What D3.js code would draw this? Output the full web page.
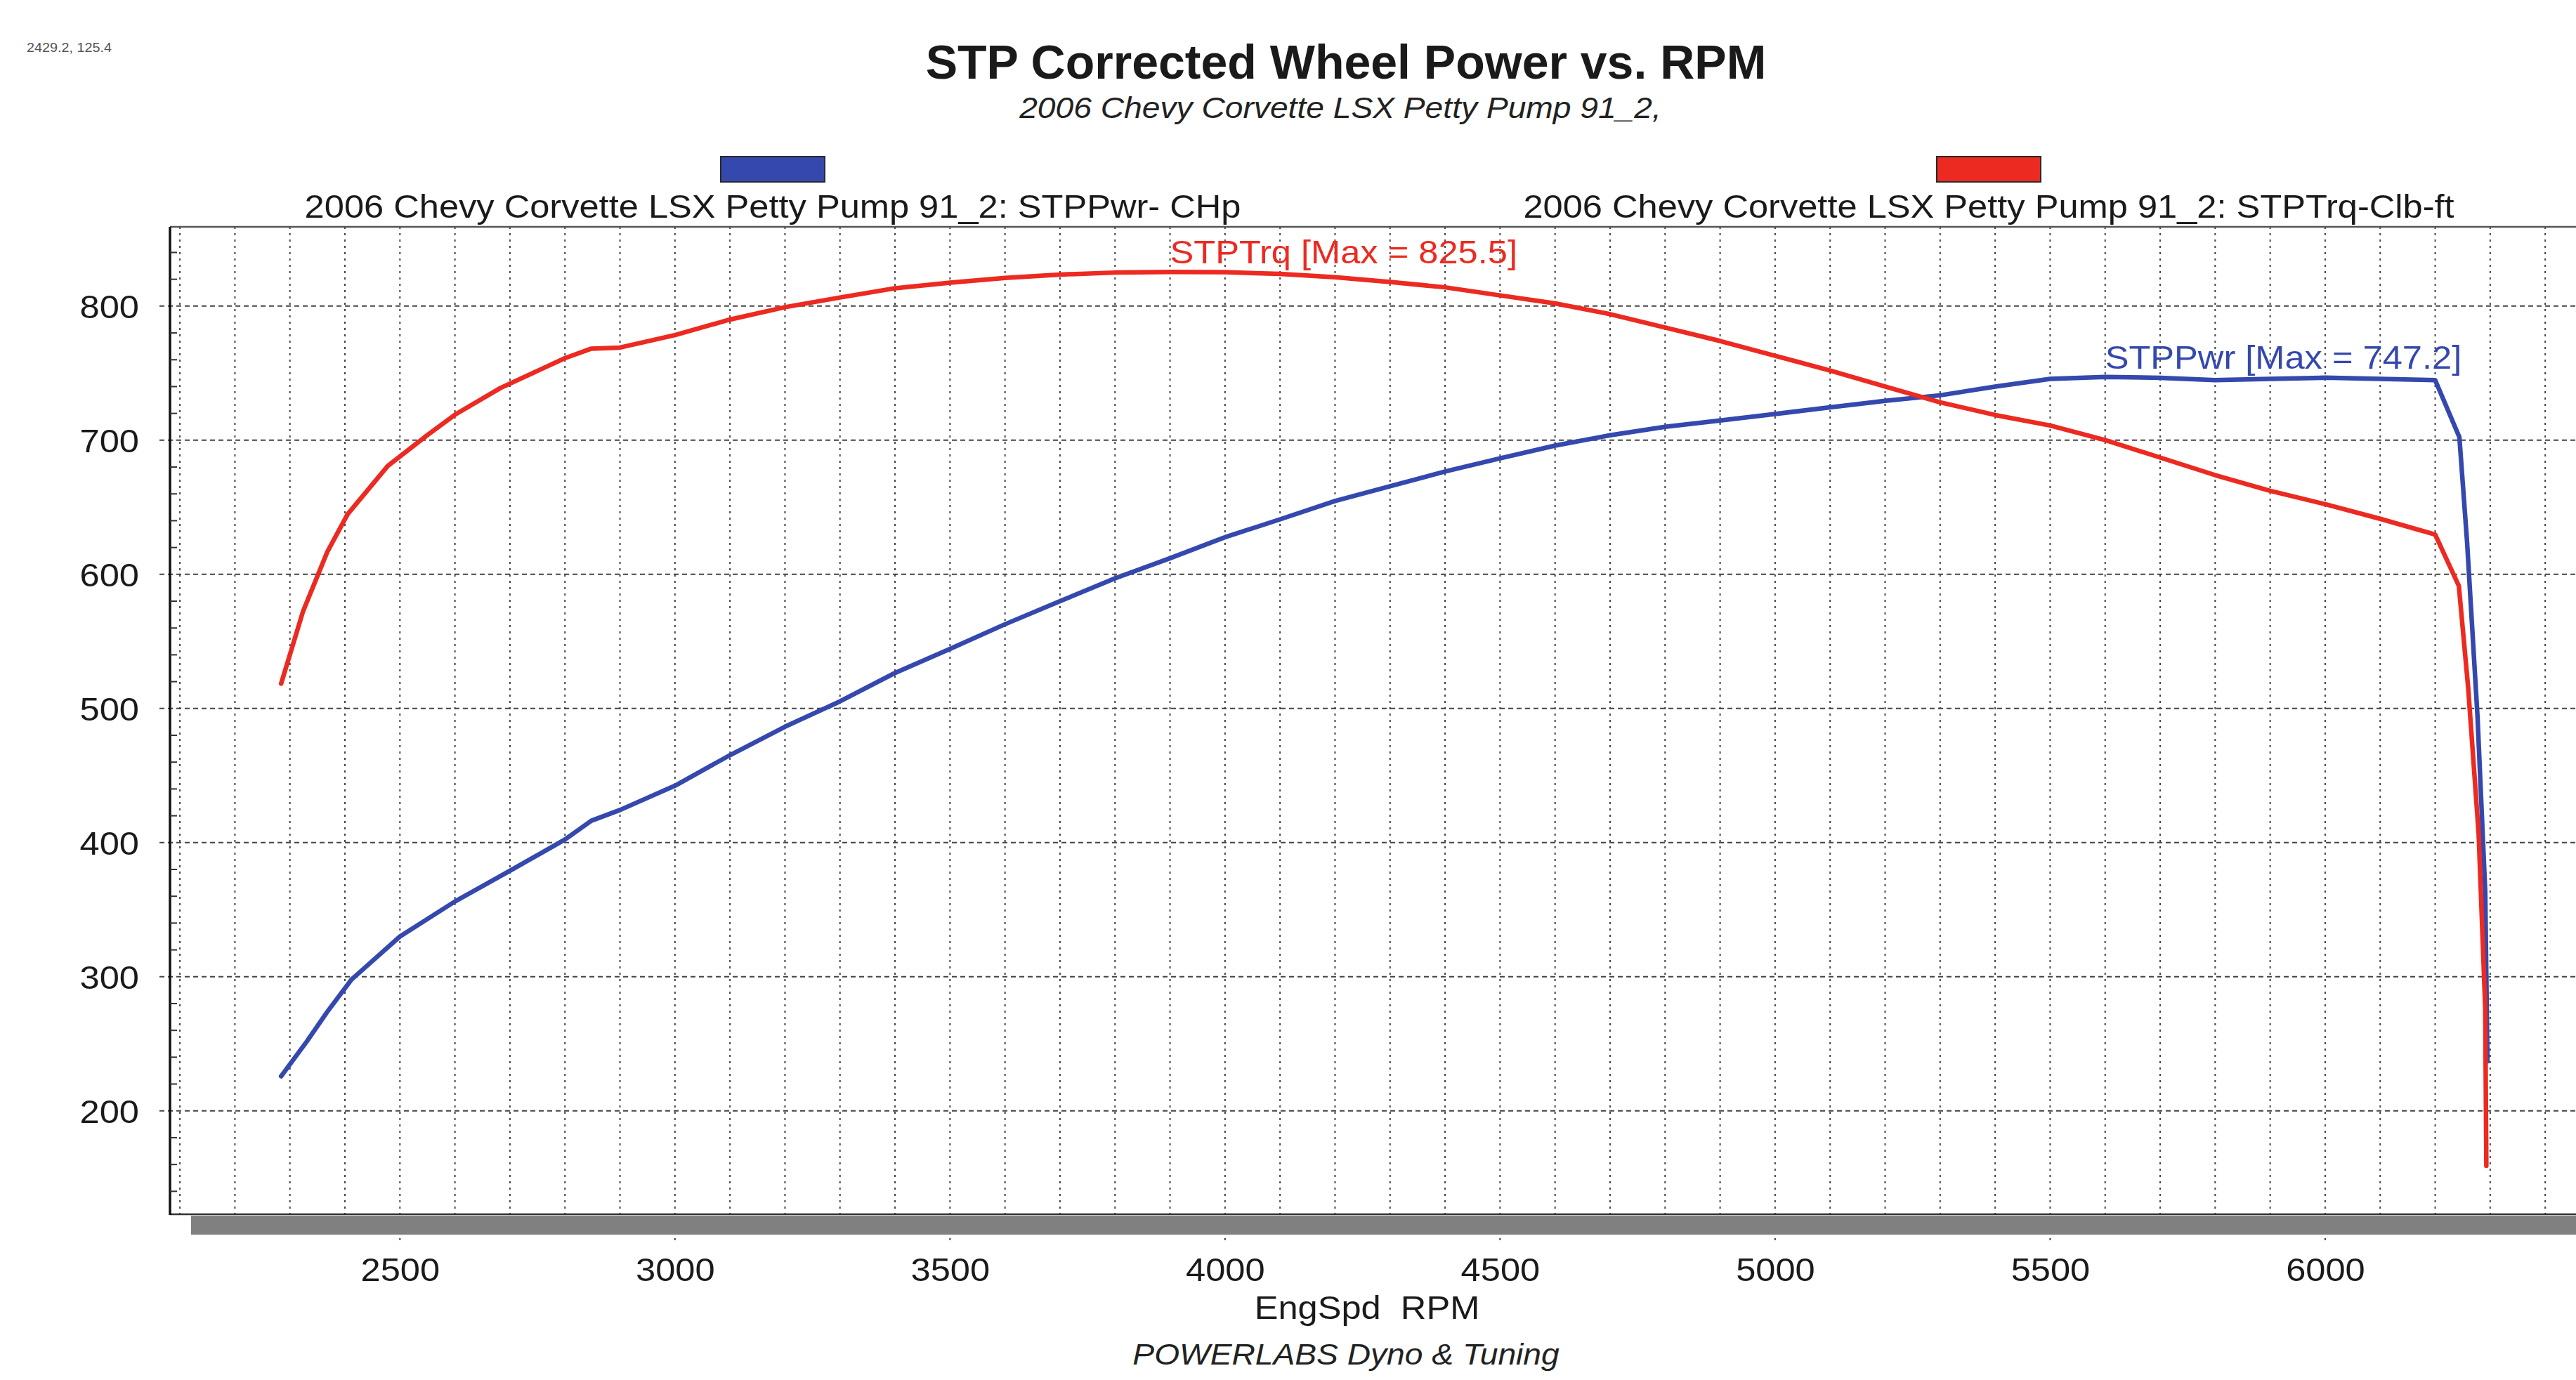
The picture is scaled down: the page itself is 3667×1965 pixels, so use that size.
<!DOCTYPE html>
<html>
<head>
<meta charset="utf-8">
<script src="https://cdn.jsdelivr.net/npm/d3@7"></script>
<style>
html, body { margin: 0; padding: 0; background: #fff; }
svg { display: block; }
text { font-family: "Liberation Sans", Arial, sans-serif; fill: #1a1a1a; }
</style>
</head>
<body>
<div id="chart"></div>
<script>
// engine speed samples (rpm) and STP corrected wheel power (CHp)
var pwrRpm = [2284, 2331, 2368, 2412, 2500, 2600, 2700, 2800, 2848, 2900, 3000, 3100, 3200, 3300, 3400,
    3500, 3600, 3700, 3800, 3900, 4000, 4100, 4200, 4300, 4400, 4500, 4600, 4700, 4800, 4900, 5000,
    5100, 5200, 5300, 5400, 5500, 5600, 5700, 5800, 5900, 6000, 6100, 6200, 6244, 6258, 6277, 6291, 6295];
var pwrHp = [225.8, 251.9, 273.9, 297.9, 330, 356.1, 379, 402.3, 416.3, 424.3, 442.4, 465.2, 486.4, 505.3, 526.5,
    544.4, 562.8, 580, 597, 612, 627.7, 641, 654.7, 665.7, 676.7, 686.5, 696, 703.7, 710, 714.7, 719.6,
    724.5, 729.4, 733.5, 740, 745.7, 747.2, 746.5, 744.8, 745.7, 746.6, 745.7, 744.8, 702.3, 624, 493.6, 363.4, 237];

// engine speed samples (rpm) and STP corrected torque (lb-ft)
var trqRpm = [2284, 2324, 2368, 2405, 2478, 2551, 2600, 2683, 2800, 2848, 2900, 3000, 3100, 3200, 3300, 3400,
    3500, 3600, 3700, 3800, 3900, 4000, 4100, 4200, 4300, 4400, 4500, 4600, 4700, 4800, 4900, 5000,
    5100, 5200, 5300, 5400, 5500, 5600, 5700, 5800, 5900, 6000, 6100, 6200, 6243, 6260, 6279, 6291, 6293];
var trqLbft = [518.5, 572.6, 616.8, 644.9, 680.9, 704.2, 719, 739, 761.2, 768.3, 769.1, 778.4, 790, 799.2, 806.4, 813.3,
    817.5, 821, 823.5, 825, 825.5, 825.3, 824, 821.5, 818, 814, 808, 802, 794, 784, 774, 763,
    752, 740, 728.3, 718.8, 711, 700.1, 687.1, 674, 662.3, 652.3, 641.4, 629.7, 591.4, 515.4, 406.7, 276.4, 159];

var xTickValues = [2500, 3000, 3500, 4000, 4500, 5000, 5500, 6000];
var yTickValues = [200, 300, 400, 500, 600, 700, 800];
var xGridValues = d3.range(2100, 6500, 100);
var yMinorValues = d3.range(140, 860, 20).filter(function(v){ return v % 100 !== 0; });

var titleText = 'STP Corrected Wheel Power vs. RPM';
var subtitleText = '2006 Chevy Corvette LSX Petty Pump 91_2,';
var legendNames = ['2006 Chevy Corvette LSX Petty Pump 91_2: STPPwr- CHp',
                   '2006 Chevy Corvette LSX Petty Pump 91_2: STPTrq-Clb-ft'];
var xTitle = 'EngSpd\u00a0\u00a0RPM';
var footerText = 'POWERLABS Dyno & Tuning';
var cursorText = '2429.2, 125.4';

var dims = {
    width: 3667,
    height: 1965,
    left: 242,
    top: 323,
    bottom: 1729,
    stretch: 1.1,
    blue: '#3548ad',
    red: '#ec2a21'
};

var x = d3.scaleLinear().domain([2082, 6456]).range([dims.left, dims.width]);
var y = d3.scaleLinear().domain([122.9, 859.1]).range([dims.bottom, dims.top]);

var svg = d3.select('#chart')
    .append('svg')
    .attr('width', dims.width)
    .attr('height', dims.height);

function label(x0, y0, str, size, opts){
    opts = opts || {};
    var sx = opts.stretch === undefined ? dims.stretch : opts.stretch;
    return svg.append('text')
        .attr('transform', 'translate(' + x0 + ',' + y0 + ') scale(' + sx + ',1)')
        .attr('text-anchor', opts.anchor || 'start')
        .attr('font-size', size)
        .attr('font-weight', opts.weight || 'normal')
        .attr('font-style', opts.italic ? 'italic' : 'normal')
        .style('fill', opts.color || '#1a1a1a')
        .text(str);
}

// headings
label(38, 74, cursorText, 18, {color: '#555'});
label(1916, 112, titleText, 68, {anchor: 'middle', weight: 'bold', stretch: 1});
label(1908, 168, subtitleText, 42, {anchor: 'middle', italic: true, color: '#222'});

// legend
var legendCenters = [1100, 2831];
var legendColors = [dims.blue, dims.red];
legendNames.forEach(function(name, i){
    svg.append('rect')
        .attr('x', legendCenters[i] - 74)
        .attr('y', 223)
        .attr('width', 148)
        .attr('height', 36)
        .attr('fill', legendColors[i])
        .attr('stroke', '#2a2a2a')
        .attr('stroke-width', 2);
    label(legendCenters[i], 310, name, 46, {anchor: 'middle'});
});

// grid
var grid = svg.append('g');
grid.selectAll('line.v')
    .data(xGridValues)
    .enter()
    .append('line')
    .attr('x1', function(d){ return x(d); })
    .attr('x2', function(d){ return x(d); })
    .attr('y1', dims.top)
    .attr('y2', function(d){ return d % 500 === 0 ? 1772 : dims.bottom; })
    .attr('stroke', '#444')
    .attr('stroke-width', 2)
    .attr('stroke-dasharray', '3,6');

grid.selectAll('line.h')
    .data(yTickValues)
    .enter()
    .append('line')
    .attr('x1', 227)
    .attr('x2', dims.width)
    .attr('y1', function(d){ return y(d); })
    .attr('y2', function(d){ return y(d); })
    .attr('stroke', '#444')
    .attr('stroke-width', 2)
    .attr('stroke-dasharray', '7,5');

// floor shadow
svg.append('rect')
    .attr('x', 272)
    .attr('y', dims.bottom + 2)
    .attr('width', dims.width - 272)
    .attr('height', 27)
    .attr('fill', '#808080');

// frame
svg.append('line')
    .attr('x1', dims.left).attr('x2', dims.width)
    .attr('y1', dims.top).attr('y2', dims.top)
    .attr('stroke', '#555').attr('stroke-width', 2.5);
svg.append('line')
    .attr('x1', dims.left).attr('x2', dims.width)
    .attr('y1', dims.bottom).attr('y2', dims.bottom)
    .attr('stroke', '#333').attr('stroke-width', 2.5);
svg.append('line')
    .attr('x1', dims.left).attr('x2', dims.left)
    .attr('y1', dims.top).attr('y2', dims.bottom + 1)
    .attr('stroke', '#111').attr('stroke-width', 3.5);

svg.append('g')
    .selectAll('line')
    .data(yMinorValues)
    .enter()
    .append('line')
    .attr('x1', dims.left).attr('x2', dims.left + 10)
    .attr('y1', function(d){ return y(d); })
    .attr('y2', function(d){ return y(d); })
    .attr('stroke', '#333').attr('stroke-width', 2);

// axes (labels only)
var xAxis = svg.append('g')
    .attr('transform', 'translate(0,1824)')
    .call(d3.axisBottom(x).tickValues(xTickValues).tickSize(0).tickPadding(0).tickFormat(d3.format('d')));
var yAxis = svg.append('g')
    .attr('transform', 'translate(198,0)')
    .call(d3.axisLeft(y).tickValues(yTickValues).tickSize(0).tickPadding(0).tickFormat(d3.format('d')));
[xAxis, yAxis].forEach(function(ax){
    ax.select('.domain').remove();
    ax.selectAll('text')
        .attr('font-size', 46)
        .attr('font-family', '"Liberation Sans", Arial, sans-serif')
        .attr('transform', 'scale(' + dims.stretch + ',1)')
        .style('fill', '#1a1a1a');
});
xAxis.selectAll('text').attr('y', 0).attr('dy', 0);
yAxis.selectAll('text').attr('x', 0).attr('dy', '0.36em');

label(1946, 1878, xTitle, 46, {anchor: 'middle'});
label(1916, 1943, footerText, 42, {anchor: 'middle', italic: true, color: '#222'});

// curves
var line = d3.line()
    .x(function(d){ return x(d[0]); })
    .y(function(d){ return y(d[1]); });

var series = [
    {rpm: pwrRpm, val: pwrHp, color: dims.blue, name: 'STPPwr'},
    {rpm: trqRpm, val: trqLbft, color: dims.red, name: 'STPTrq'}
];

series.forEach(function(s){
    var pts = d3.zip(s.rpm, s.val);
    svg.append('path')
        .datum(pts)
        .attr('d', line)
        .attr('fill', 'none')
        .attr('stroke', s.color)
        .attr('stroke-width', 6.5)
        .attr('stroke-linejoin', 'round')
        .attr('stroke-linecap', 'round');
});

series.forEach(function(s){
    var i = d3.maxIndex(s.val);
    label(x(s.rpm[i]), y(s.val[i]) - 12, s.name + ' [Max = ' + s.val[i].toFixed(1) + ']', 46, {color: s.color});
});
</script>
</body>
</html>
